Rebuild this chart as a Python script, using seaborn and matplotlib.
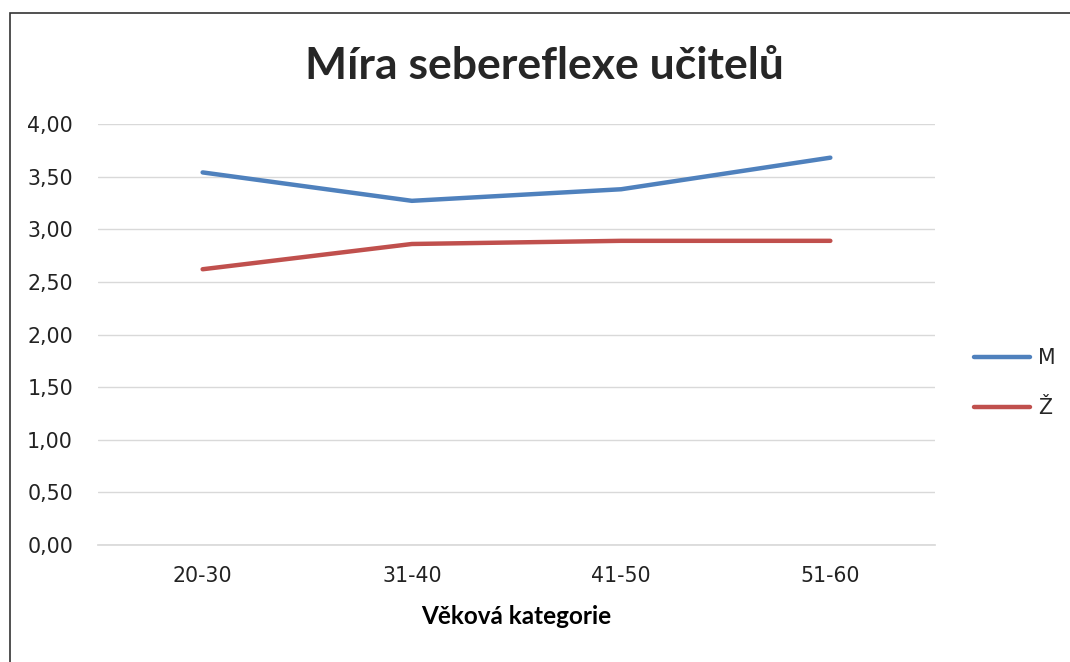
import matplotlib
matplotlib.use("Agg")
import matplotlib.pyplot as plt
import seaborn as sns
import pandas as pd
from matplotlib.patches import Rectangle
from matplotlib.ticker import FuncFormatter

categories = ["20-30", "31-40", "41-50", "51-60"]
m_values = [3.54, 3.27, 3.38, 3.68]
z_values = [2.62, 2.86, 2.89, 2.89]
series_names = ["M", "Ž"]
yticks = [0, 0.5, 1.0, 1.5, 2.0, 2.5, 3.0, 3.5, 4.0]

df = pd.DataFrame({
    "kategorie": categories * 2,
    "hodnota": m_values + z_values,
    "pohlavi": [series_names[0]] * 4 + [series_names[1]] * 4,
})

sns.set_theme(style="white")
plt.rcParams["font.family"] = ["DejaVu Sans"]

fig = plt.figure(figsize=(10.7, 6.62), dpi=100)
ax = fig.add_axes([0.0916, 0.1767, 0.7822, 0.636])

sns.lineplot(data=df, x="kategorie", y="hodnota", hue="pohlavi",
             palette={"M": "#4F81BD", "Ž": "#C0504D"}, linewidth=3.2,
             sort=False, ax=ax)

ax.set_xlim(-0.5, 3.5)
ax.set_ylim(0, 4)
ax.set_yticks(yticks)
ax.yaxis.set_major_formatter(FuncFormatter(lambda v, p: f"{v:.2f}".replace(".", ",")))
ax.grid(axis="y", color="#D9D9D9", linewidth=1)
ax.set_axisbelow(True)
for s in ["top", "right", "left"]:
    ax.spines[s].set_visible(False)
ax.spines["bottom"].set_color("#D9D9D9")
ax.tick_params(axis="both", length=0, labelsize=14.8, colors="#222222")
ax.tick_params(axis="x", pad=15)
ax.tick_params(axis="y", pad=18)

ax.set_ylabel("")
ax.set_xlabel("Věková kategorie", family=["Lato", "DejaVu Sans"], fontweight="bold",
              fontsize=17.5, color="black", labelpad=14)

fig.text(0.509, 0.9, "Míra sebereflexe učitelů", ha="center", va="center",
         family=["Lato", "DejaVu Sans"], fontweight="bold", fontsize=32)

leg = ax.legend(loc="center left", bbox_to_anchor=(1.025, 0.385), frameon=False,
                fontsize=14.8, handlelength=2.7, labelspacing=1.45, handletextpad=0.4)
for line in leg.get_lines():
    line.set_linewidth(3.2)

fig.patches.append(Rectangle((10 / 1070, -0.1), 1.2, (662 - 13) / 662 + 0.1,
                             transform=fig.transFigure, fill=False,
                             edgecolor="#333333", linewidth=1.2))

fig.savefig("out.png", dpi=100)
